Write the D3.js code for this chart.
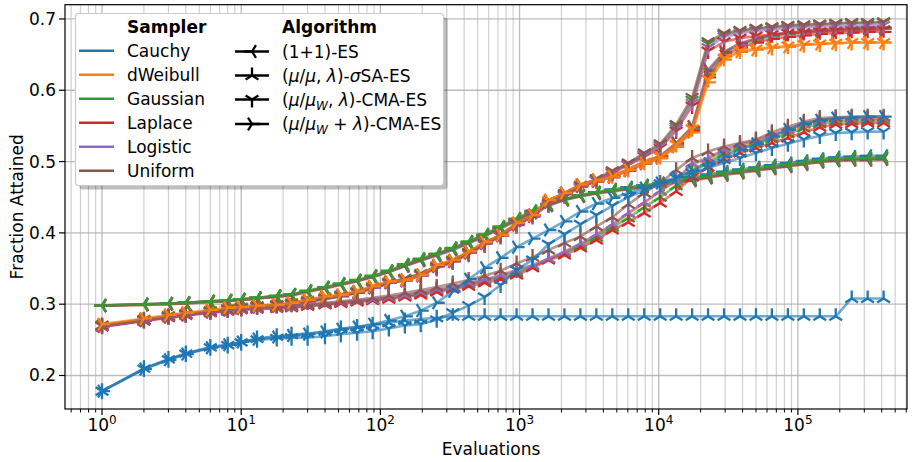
<!DOCTYPE html>
<html><head><meta charset="utf-8">
<script src="https://cdn.jsdelivr.net/npm/d3@7"></script>
<style>body{margin:0;background:#fff}svg{display:block}text{font-family:"DejaVu Sans",sans-serif;fill:#000}</style>
</head><body><svg id="c" width="914" height="462"></svg>
<script>
// ---------------- DATA ----------------
const evaluations = [1,2,3,4,6,8,10,13,18,23,30,40,52,68,88,115,150,195,254,331,431,561,731,952,1240,1614,2102,2737,3564,4641,6043,7869,10247,13343,17374,22623,29459,38360,49950,65042,84694,110284,143606,186997,243497,317068,412870];

const samplers = ["Cauchy","dWeibull","Gaussian","Laplace","Logistic","Uniform"];
const samplerColors = ["#1f77b4","#ff7f0e","#2ca02c","#d62728","#9467bd","#8c564b"];
const algorithms = ["(1+1)-ES","sSA","CMAcomma","CMAplus"];
const algorithmMarkers = ["left","up","down","right"];
const yTicks = [0.2,0.3,0.4,0.5,0.6,0.7];
const xTickExponents = [0,1,2,3,4,5];

// (1+1)-ES
const cauchy_oneplus = [0.298,0.300,0.301,0.302,0.304,0.305,0.307,0.309,0.311,0.313,0.318,0.323,0.328,0.333,0.338,0.345,0.353,0.361,0.368,0.376,0.385,0.395,0.406,0.417,0.428,0.438,0.446,0.452,0.457,0.461,0.464,0.467,0.470,0.474,0.478,0.482,0.486,0.489,0.492,0.495,0.498,0.501,0.504,0.506,0.507,0.508,0.508];
const dweibull_oneplus = [0.298,0.299,0.300,0.301,0.303,0.304,0.306,0.308,0.311,0.313,0.318,0.323,0.328,0.333,0.339,0.346,0.355,0.363,0.370,0.378,0.387,0.397,0.408,0.419,0.430,0.440,0.447,0.452,0.456,0.459,0.462,0.465,0.468,0.471,0.475,0.479,0.483,0.486,0.489,0.492,0.495,0.498,0.501,0.503,0.504,0.504,0.505];
const gaussian_oneplus = [0.298,0.300,0.301,0.302,0.304,0.305,0.307,0.309,0.312,0.314,0.319,0.324,0.329,0.334,0.340,0.347,0.356,0.364,0.371,0.379,0.388,0.398,0.409,0.420,0.431,0.441,0.448,0.453,0.457,0.460,0.463,0.466,0.469,0.472,0.476,0.480,0.484,0.487,0.490,0.493,0.496,0.499,0.502,0.504,0.505,0.505,0.506];
const laplace_oneplus = [0.298,0.300,0.301,0.302,0.304,0.305,0.306,0.308,0.311,0.313,0.318,0.323,0.328,0.333,0.339,0.346,0.354,0.362,0.370,0.378,0.387,0.397,0.408,0.419,0.430,0.440,0.447,0.452,0.456,0.459,0.462,0.465,0.468,0.471,0.474,0.478,0.482,0.485,0.488,0.491,0.494,0.497,0.500,0.502,0.503,0.503,0.504];
const logistic_oneplus = [0.298,0.300,0.301,0.302,0.304,0.305,0.307,0.309,0.311,0.313,0.318,0.323,0.328,0.333,0.339,0.346,0.355,0.363,0.370,0.378,0.387,0.397,0.408,0.419,0.430,0.440,0.447,0.452,0.456,0.460,0.463,0.466,0.469,0.472,0.475,0.479,0.483,0.486,0.489,0.492,0.495,0.498,0.501,0.503,0.504,0.504,0.505];
const uniform_oneplus = [0.298,0.299,0.300,0.301,0.303,0.304,0.306,0.308,0.310,0.312,0.317,0.322,0.327,0.332,0.338,0.345,0.354,0.362,0.369,0.377,0.386,0.396,0.407,0.418,0.429,0.439,0.446,0.451,0.455,0.458,0.461,0.464,0.467,0.470,0.473,0.477,0.481,0.484,0.487,0.490,0.493,0.496,0.499,0.501,0.502,0.502,0.503];

// (mu/mu, lambda)-sigmaSA-ES
const cauchy_sa = [0.178,0.210,0.223,0.231,0.240,0.243,0.247,0.252,0.255,0.257,0.259,0.262,0.266,0.268,0.271,0.274,0.277,0.279,0.281,0.283,0.283,0.283,0.283,0.283,0.283,0.283,0.283,0.283,0.283,0.283,0.283,0.283,0.283,0.283,0.283,0.283,0.283,0.283,0.283,0.283,0.283,0.283,0.283,0.283,0.308,0.308,0.308];
const dweibull_sa = [0.269,0.277,0.282,0.285,0.289,0.291,0.293,0.294,0.295,0.296,0.298,0.300,0.302,0.304,0.306,0.309,0.312,0.316,0.320,0.324,0.329,0.334,0.340,0.347,0.354,0.363,0.373,0.384,0.397,0.411,0.427,0.442,0.458,0.473,0.496,0.504,0.515,0.522,0.528,0.536,0.543,0.552,0.556,0.559,0.560,0.560,0.560];
const gaussian_sa = [0.269,0.277,0.282,0.285,0.289,0.291,0.293,0.294,0.295,0.296,0.298,0.300,0.302,0.304,0.306,0.309,0.312,0.315,0.319,0.323,0.328,0.333,0.338,0.344,0.353,0.363,0.372,0.382,0.394,0.408,0.421,0.436,0.450,0.466,0.488,0.500,0.511,0.519,0.525,0.532,0.539,0.547,0.553,0.556,0.557,0.557,0.558];
const laplace_sa = [0.268,0.276,0.281,0.284,0.288,0.290,0.292,0.293,0.294,0.295,0.297,0.299,0.301,0.303,0.305,0.307,0.310,0.313,0.317,0.321,0.325,0.330,0.335,0.341,0.351,0.362,0.369,0.379,0.390,0.404,0.415,0.428,0.442,0.458,0.478,0.492,0.503,0.512,0.519,0.526,0.533,0.541,0.548,0.552,0.553,0.554,0.554];
const logistic_sa = [0.269,0.277,0.282,0.285,0.289,0.291,0.293,0.294,0.295,0.297,0.299,0.301,0.303,0.305,0.307,0.310,0.313,0.317,0.321,0.325,0.330,0.335,0.341,0.348,0.355,0.364,0.374,0.385,0.398,0.412,0.428,0.443,0.459,0.474,0.498,0.505,0.517,0.524,0.530,0.538,0.545,0.554,0.558,0.561,0.561,0.561,0.561];
const uniform_sa = [0.270,0.278,0.283,0.286,0.290,0.292,0.294,0.295,0.296,0.298,0.300,0.302,0.304,0.306,0.309,0.312,0.316,0.320,0.324,0.329,0.334,0.340,0.347,0.357,0.366,0.376,0.386,0.395,0.409,0.422,0.440,0.456,0.470,0.488,0.505,0.514,0.521,0.526,0.531,0.541,0.549,0.556,0.561,0.562,0.563,0.563,0.563];

// (mu/mu_W, lambda)-CMA-ES
const cauchy_comma = [0.178,0.209,0.222,0.230,0.239,0.242,0.246,0.250,0.252,0.253,0.253,0.255,0.258,0.260,0.262,0.266,0.270,0.272,0.278,0.288,0.298,0.310,0.327,0.348,0.362,0.384,0.398,0.412,0.425,0.438,0.450,0.460,0.469,0.477,0.484,0.491,0.498,0.505,0.512,0.519,0.525,0.531,0.536,0.540,0.541,0.542,0.542];
const dweibull_comma = [0.271,0.279,0.284,0.287,0.291,0.294,0.296,0.298,0.299,0.302,0.306,0.310,0.313,0.318,0.325,0.331,0.334,0.341,0.354,0.362,0.373,0.386,0.397,0.413,0.425,0.445,0.455,0.467,0.474,0.480,0.489,0.499,0.507,0.524,0.546,0.615,0.645,0.655,0.658,0.660,0.662,0.664,0.665,0.666,0.667,0.667,0.667];
const gaussian_comma = [0.270,0.278,0.283,0.286,0.290,0.293,0.295,0.297,0.299,0.301,0.304,0.308,0.312,0.317,0.323,0.330,0.336,0.343,0.352,0.361,0.372,0.385,0.397,0.412,0.425,0.441,0.454,0.465,0.475,0.486,0.497,0.510,0.523,0.549,0.586,0.665,0.678,0.683,0.686,0.688,0.690,0.691,0.692,0.693,0.694,0.694,0.695];
const laplace_comma = [0.269,0.277,0.282,0.285,0.289,0.292,0.294,0.296,0.298,0.300,0.303,0.307,0.311,0.316,0.322,0.329,0.335,0.341,0.350,0.359,0.370,0.383,0.395,0.410,0.423,0.439,0.452,0.463,0.473,0.484,0.495,0.507,0.519,0.543,0.578,0.655,0.668,0.673,0.676,0.678,0.680,0.681,0.682,0.683,0.684,0.684,0.685];
const logistic_comma = [0.269,0.277,0.282,0.285,0.289,0.292,0.294,0.296,0.298,0.300,0.303,0.307,0.311,0.316,0.322,0.329,0.335,0.342,0.351,0.360,0.371,0.384,0.396,0.411,0.424,0.440,0.453,0.464,0.474,0.485,0.496,0.509,0.521,0.546,0.582,0.660,0.675,0.680,0.683,0.685,0.687,0.688,0.689,0.690,0.690,0.691,0.691];
const uniform_comma = [0.270,0.278,0.283,0.286,0.290,0.293,0.295,0.297,0.299,0.301,0.304,0.308,0.312,0.317,0.323,0.330,0.336,0.342,0.352,0.361,0.372,0.385,0.397,0.413,0.426,0.442,0.455,0.466,0.476,0.487,0.498,0.512,0.525,0.552,0.590,0.668,0.680,0.684,0.687,0.689,0.691,0.692,0.693,0.694,0.695,0.695,0.696];

// (mu/mu_W + lambda)-CMA-ES
const cauchy_plus = [0.178,0.209,0.222,0.230,0.239,0.243,0.247,0.251,0.254,0.256,0.258,0.261,0.265,0.268,0.272,0.277,0.283,0.291,0.302,0.318,0.335,0.351,0.365,0.380,0.392,0.404,0.416,0.430,0.441,0.449,0.456,0.463,0.470,0.478,0.487,0.497,0.507,0.516,0.525,0.535,0.545,0.553,0.558,0.561,0.562,0.563,0.563];
const dweibull_plus = [0.272,0.280,0.285,0.288,0.292,0.295,0.296,0.298,0.299,0.302,0.306,0.311,0.313,0.318,0.325,0.332,0.334,0.341,0.355,0.362,0.374,0.387,0.397,0.414,0.425,0.446,0.456,0.468,0.474,0.479,0.488,0.498,0.505,0.521,0.541,0.611,0.643,0.654,0.657,0.660,0.661,0.664,0.665,0.666,0.667,0.667,0.667];
const gaussian_plus = [0.270,0.278,0.283,0.286,0.290,0.293,0.295,0.297,0.298,0.301,0.305,0.310,0.312,0.317,0.324,0.331,0.334,0.341,0.354,0.361,0.373,0.386,0.397,0.413,0.425,0.445,0.456,0.467,0.474,0.480,0.489,0.499,0.507,0.524,0.546,0.622,0.652,0.664,0.671,0.676,0.679,0.681,0.683,0.684,0.685,0.686,0.686];
const laplace_plus = [0.269,0.277,0.282,0.285,0.289,0.292,0.294,0.296,0.297,0.300,0.304,0.309,0.311,0.316,0.323,0.330,0.333,0.340,0.353,0.360,0.372,0.385,0.396,0.411,0.423,0.443,0.454,0.465,0.472,0.478,0.487,0.497,0.505,0.521,0.543,0.618,0.648,0.660,0.667,0.672,0.675,0.677,0.679,0.680,0.681,0.682,0.682];
const logistic_plus = [0.269,0.277,0.282,0.285,0.289,0.292,0.294,0.296,0.298,0.300,0.304,0.309,0.312,0.317,0.323,0.330,0.333,0.340,0.353,0.360,0.372,0.385,0.396,0.412,0.424,0.444,0.455,0.466,0.473,0.479,0.488,0.499,0.507,0.525,0.548,0.629,0.654,0.665,0.672,0.677,0.680,0.682,0.684,0.685,0.686,0.687,0.687];
const uniform_plus = [0.270,0.278,0.283,0.286,0.290,0.293,0.295,0.297,0.298,0.301,0.305,0.310,0.312,0.317,0.324,0.331,0.334,0.341,0.354,0.361,0.373,0.386,0.397,0.413,0.425,0.445,0.456,0.467,0.474,0.480,0.489,0.500,0.508,0.526,0.549,0.627,0.653,0.666,0.673,0.678,0.681,0.683,0.685,0.686,0.687,0.688,0.688];

// draw order: [sampler index, algorithm index, values]
const series = [
  [0,0,cauchy_oneplus],[1,0,dweibull_oneplus],[3,0,laplace_oneplus],[4,0,logistic_oneplus],[5,0,uniform_oneplus],[2,0,gaussian_oneplus],
  [0,1,cauchy_sa],[1,1,dweibull_sa],[2,1,gaussian_sa],[3,1,laplace_sa],[4,1,logistic_sa],[5,1,uniform_sa],
  [0,3,cauchy_plus],[2,3,gaussian_plus],[3,3,laplace_plus],[4,3,logistic_plus],[5,3,uniform_plus],
  [0,2,cauchy_comma],[1,2,dweibull_comma],[2,2,gaussian_comma],[3,2,laplace_comma],[4,2,logistic_comma],[5,2,uniform_comma],
  [1,3,dweibull_plus]
];

// ---------------- CHART ----------------
const svg = d3.select("#c");
const M = {left:65, right:907, top:4.7, bottom:409};
const FS = 17;
const x = d3.scaleLog().domain([0.542, 6.08e5]).range([M.left, M.right]);
const y = d3.scaleLinear().domain([0.153, 0.72]).range([M.bottom, M.top]);

svg.append("defs").append("clipPath").attr("id","clip")
  .append("rect").attr("x",M.left).attr("y",M.top).attr("width",M.right-M.left).attr("height",M.bottom-M.top);

// grid
const minorX = [];
for (let d=-1; d<=5; d++) for (let m=2; m<=9; m++) { const v=m*Math.pow(10,d); if (v>=x.domain()[0] && v<=x.domain()[1]) minorX.push(v); }
const majorX = xTickExponents.map(e=>Math.pow(10,e));
const g = svg.append("g");
g.selectAll(".gminor").data(minorX).join("line")
  .attr("x1",d=>x(d)).attr("x2",d=>x(d)).attr("y1",M.top).attr("y2",M.bottom)
  .attr("stroke","#b0b0b0").attr("stroke-opacity",0.6).attr("stroke-width",1.2);
g.selectAll(".gmajor").data(majorX).join("line")
  .attr("x1",d=>x(d)).attr("x2",d=>x(d)).attr("y1",M.top).attr("y2",M.bottom)
  .attr("stroke","#b0b0b0").attr("stroke-opacity",0.85).attr("stroke-width",1.3);
g.selectAll(".gy").data(yTicks).join("line")
  .attr("x1",M.left).attr("x2",M.right).attr("y1",d=>y(d)).attr("y2",d=>y(d))
  .attr("stroke","#b0b0b0").attr("stroke-opacity",0.85).attr("stroke-width",1.3);

// markers
function markerPath(type, s){
  const h=0.5*s, a=0.4*s, b=0.25*s;
  if (type==="down") return `M0,0L0,${h}M0,0L${a},${-b}M0,0L${-a},${-b}`;
  if (type==="up") return `M0,0L0,${-h}M0,0L${a},${b}M0,0L${-a},${b}`;
  if (type==="left") return `M0,0L${-h},0M0,0L${b},${a}M0,0L${b},${-a}`;
  return `M0,0L${h},0M0,0L${-b},${a}M0,0L${-b},${-a}`;
}
const MS = 16;
const line = d3.line().x(d=>x(d[0])).y(d=>y(d[1]));
const plot = svg.append("g").attr("clip-path","url(#clip)");
series.forEach(([si, ai, vals])=>{
  const pts = evaluations.map((e,i)=>[e, vals[i]]);
  const col = samplerColors[si];
  const sg = plot.append("g");
  sg.append("path").attr("d", line(pts)).attr("fill","none").attr("stroke",col)
    .attr("stroke-width",2.6).attr("stroke-opacity",0.62).attr("stroke-linejoin","round");
  sg.selectAll("path.m").data(pts).join("path").attr("class","m")
    .attr("transform",d=>`translate(${x(d[0])},${y(d[1])})`)
    .attr("d", markerPath(algorithmMarkers[ai], MS))
    .attr("fill","none").attr("stroke",col).attr("stroke-width",2.3);
});

// frame
svg.append("rect").attr("x",M.left).attr("y",M.top).attr("width",M.right-M.left).attr("height",M.bottom-M.top)
  .attr("fill","none").attr("stroke","#000").attr("stroke-width",1.2);

// ticks
const ax = svg.append("g");
ax.selectAll(".tmin").data(minorX).join("line")
  .attr("x1",d=>x(d)).attr("x2",d=>x(d)).attr("y1",M.bottom).attr("y2",M.bottom+3.5)
  .attr("stroke","#000").attr("stroke-width",1);
ax.selectAll(".tmaj").data(majorX).join("line")
  .attr("x1",d=>x(d)).attr("x2",d=>x(d)).attr("y1",M.bottom).attr("y2",M.bottom+6)
  .attr("stroke","#000").attr("stroke-width",1.2);
const xl = ax.selectAll(".xl").data(xTickExponents).join("text")
  .attr("x",d=>x(Math.pow(10,d))).attr("y",431).attr("text-anchor","middle")
  .style("font-size",FS+"px");
xl.append("tspan").text("10");
xl.append("tspan").attr("dy",-7).style("font-size","12px").text(d=>d);
ax.selectAll(".ty").data(yTicks).join("line")
  .attr("x1",M.left-6).attr("x2",M.left).attr("y1",d=>y(d)).attr("y2",d=>y(d))
  .attr("stroke","#000").attr("stroke-width",1.2);
ax.selectAll(".yl").data(yTicks).join("text")
  .attr("x",M.left-9).attr("y",d=>y(d)+6).attr("text-anchor","end")
  .style("font-size",FS+"px").text(d=>d.toFixed(1));

svg.append("text").attr("x",(M.left+M.right)/2+5).attr("y",455).attr("text-anchor","middle")
  .style("font-size",FS+"px").text("Evaluations");
svg.append("text").attr("transform",`translate(23,${(M.top+M.bottom)/2}) rotate(-90)`)
  .attr("text-anchor","middle").style("font-size",FS+"px").text("Fraction Attained");

// legend
const L = svg.append("g");
const lx=75.5, ly=13.5, lw=368, lh=172;
L.append("rect").attr("x",lx+4).attr("y",ly+4).attr("width",lw).attr("height",lh).attr("rx",3)
  .attr("fill","#000").attr("opacity",0.25);
L.append("rect").attr("x",lx).attr("y",ly).attr("width",lw).attr("height",lh).attr("rx",3)
  .attr("fill","#fff").attr("stroke","#cccccc").attr("stroke-width",1.2);
const rowY = [26.7,50.7,74.7,98.7,122.7,146.7,170.7];
L.append("text").attr("x",127).attr("y",rowY[0]+6).style("font-size",FS+"px").style("font-weight","bold").text("Sampler");
samplers.forEach((s,i)=>{
  L.append("line").attr("x1",79).attr("x2",114).attr("y1",rowY[i+1]).attr("y2",rowY[i+1])
    .attr("stroke",samplerColors[i]).attr("stroke-width",2.6);
  L.append("text").attr("x",127).attr("y",rowY[i+1]+6).style("font-size",FS+"px").text(s);
});
L.append("text").attr("x",282).attr("y",rowY[0]+6).style("font-size",FS+"px").style("font-weight","bold").text("Algorithm");
const algLabels = [
  [["(1+1)-ES",0]],
  [["(",0],["μ",1],["/",0],["μ",1],[", ",0],["λ",1],[")-",0],["σ",1],["SA-ES",0]],
  [["(",0],["μ",1],["/",0],["μ",1],["W",2],[", ",0],["λ",1],[")-CMA-ES",0]],
  [["(",0],["μ",1],["/",0],["μ",1],["W",2],[" + ",0],["λ",1],[")-CMA-ES",0]]
];
const algY = [51.5,75.5,99.5,124];
algLabels.forEach((parts,i)=>{
  const yy = algY[i];
  L.append("line").attr("x1",235).attr("x2",269).attr("y1",yy).attr("y2",yy).attr("stroke","#000").attr("stroke-width",2.6);
  L.append("path").attr("transform",`translate(252,${yy})`).attr("d",markerPath(algorithmMarkers[i],MS))
    .attr("fill","none").attr("stroke","#000").attr("stroke-width",2.3);
  const t = L.append("text").attr("x",282).attr("y",yy+6).style("font-size",FS+"px").attr("xml:space","preserve");
  let sub=false;
  parts.forEach(([s,k])=>{
    const ts = t.append("tspan").text(s);
    if (k===1) ts.style("font-style","italic");
    if (k===2) { ts.style("font-style","italic").style("font-size","12px").attr("dy",4); sub=true; }
    else if (sub) { ts.attr("dy",-4); sub=false; }
  });
});
</script></body></html>
